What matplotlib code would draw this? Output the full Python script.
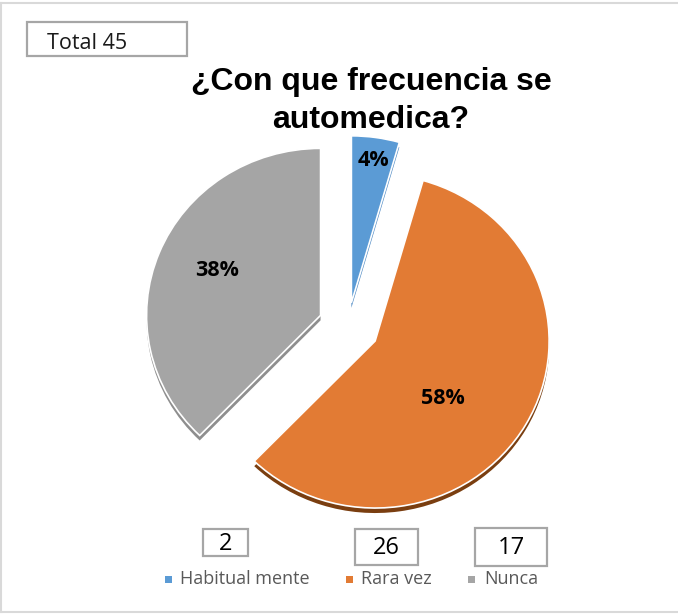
import matplotlib
matplotlib.use("Agg")
import matplotlib.pyplot as plt
from matplotlib.patches import Rectangle
from matplotlib.lines import Line2D

# ---- data ----
categories = ["Habitual mente", "Rara vez", "Nunca"]
counts = [2, 26, 17]
total_label = "Total 45"
title_lines = ["¿Con que frecuencia se", "automedica?"]

colors = ["#5B9BD5", "#E27B34", "#A5A5A5"]
side_colors = ["#4F8AC4", "#7A3E10", "#8E8E8E"]
explode = [0.14, 0.18, 0.17]

W, H = 678, 614
fig = plt.figure(figsize=(W / 100, H / 100), dpi=100)
fig.patch.set_facecolor("white")

RX, RY = 174.0, 167.0  # pixel radius (slightly elliptical, as in the reference)
ax = fig.add_axes([0, 0, 1, 1])
ax.set_axis_off()

cx, cy = 348.0, 326.0  # pie centre in pixel coords (y down)
center = (cx / RX, (H - cy) / RY)
shadow_center = (cx / RX, (H - cy - 5) / RY)

# side / shadow layer
ax.pie(counts, explode=explode, colors=side_colors, startangle=90,
       counterclock=False, center=shadow_center, radius=1,
       wedgeprops=dict(edgecolor="none", linewidth=0), frame=False)

wedges, texts, autotexts = ax.pie(
    counts, explode=explode, colors=colors, startangle=90, counterclock=False,
    center=center, radius=1, autopct="%1.0f%%",
    wedgeprops=dict(edgecolor="white", linewidth=1.2),
    textprops=dict(fontsize=15.5, fontweight="bold", color="black",
                   family="Open Sans"),
    frame=False)

ax.set_xlim(0, W / RX)
ax.set_ylim(0, H / RY)
ax.set_aspect("auto")

# percentage label positions (pixel coords)
label_px = [(373, 160), (443, 398), (217, 270)]
for t, (px, py) in zip(autotexts, label_px):
    t.set_position((px / RX, (H - py) / RY))
    t.set_ha("center")
    t.set_va("center")

def fx(px):
    return px / W

def fy(py):
    return 1 - py / H

# figure border lines
fig.add_artist(Line2D([0, 1], [fy(3), fy(3)], color="#D9D9D9", lw=1.5,
                      transform=fig.transFigure))
fig.add_artist(Line2D([0, 1], [fy(612), fy(612)], color="#D9D9D9", lw=1.5,
                      transform=fig.transFigure))
fig.add_artist(Line2D([fx(1), fx(1)], [fy(3), fy(612)], color="#D9D9D9", lw=1.5,
                      transform=fig.transFigure))

# title
fig.text(fx(371), fy(90), title_lines[0], ha="center", va="baseline",
         fontsize=23, fontweight="bold", family="Liberation Sans")
fig.text(fx(371), fy(128), title_lines[1], ha="center", va="baseline",
         fontsize=23, fontweight="bold", family="Liberation Sans")

def box(x0, y0, x1, y1):
    fig.add_artist(Rectangle((fx(x0), fy(y1)), fx(x1) - fx(x0), fy(y0) - fy(y1),
                             transform=fig.transFigure, facecolor="white",
                             edgecolor="#A6A6A6", lw=1.6))

# Total box
box(27, 22, 187, 56)
fig.text(fx(47), fy(49), total_label, ha="left", va="baseline",
         fontsize=15.5, family="Open Sans", color="#1a1a1a")

# count boxes
count_boxes = [(203, 529, 248, 556), (355, 529, 418, 565), (475, 528, 547, 566)]
for (x0, y0, x1, y1), n in zip(count_boxes, counts):
    box(x0, y0, x1, y1)
    fig.text(fx((x0 + x1) / 2), fy((y0 + y1) / 2 + 1), str(n), ha="center",
             va="center", fontsize=17, family="Open Sans", color="black")

# legend
marker_x = [168, 349, 472]
text_x = [180, 361, 484]
for mx, tx, c, lab in zip(marker_x, text_x, colors, categories):
    s = 7
    fig.add_artist(Rectangle((fx(mx - s / 2), fy(579 + s / 2)), s / W, s / H,
                             transform=fig.transFigure, facecolor=c,
                             edgecolor="none"))
    fig.text(fx(tx), fy(584), lab, ha="left", va="baseline", fontsize=13,
             family="Open Sans", color="#595959")

fig.savefig("out.png", dpi=100, facecolor="white")
